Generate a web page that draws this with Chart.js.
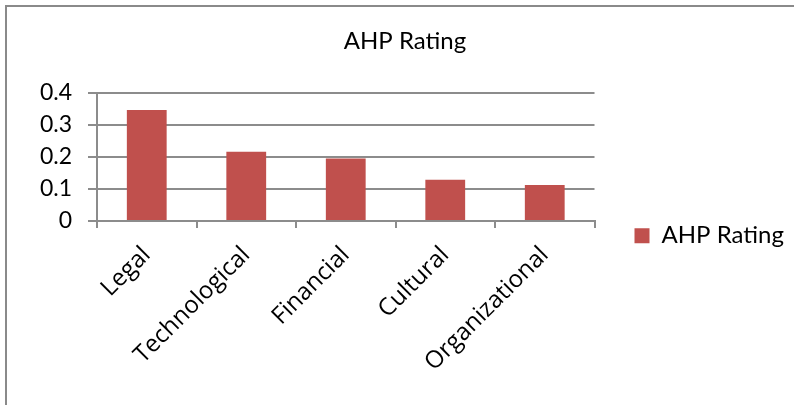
<!DOCTYPE html>
<html>
<head>
<meta charset="utf-8">
<script src="https://cdn.jsdelivr.net/npm/chart.js@4"></script>
<style>
  body { margin: 0; background: #fff; }
  #wrap { position: relative; width: 794px; height: 405px; overflow: hidden; }
  #frame { position: absolute; left: 5px; top: 5px; width: 900px; height: 600px; border: 2px solid #8a8a8a; }
  #chart { position: absolute; left: 0; top: 0; }
</style>
</head>
<body>
<div id="wrap">
  <div id="frame"></div>
  <canvas id="chart" width="794" height="405"></canvas>
</div>
<script>
var categories = ['Legal', 'Technological', 'Financial', 'Cultural', 'Organizational'];
var seriesName = 'AHP Rating';
var ahpValues = [0.346, 0.216, 0.195, 0.129, 0.112];
var yMin = 0, yMax = 0.4, yStep = 0.1;

var titleFont = 'Lato, "Open Sans", sans-serif';
var labelFont = '"Open Sans", Lato, sans-serif';
var gridGray = '#8c8c8c';

var ctx = document.getElementById('chart');
var chart = new Chart(ctx, {
    type: 'bar',
    data: {
        labels: categories,
        datasets: [{
            label: seriesName,
            data: ahpValues,
            backgroundColor: '#c0504d',
            borderWidth: 0,
            barPercentage: 0.4,
            categoryPercentage: 1
        }]
    },
    options: {
        responsive: false,
        animation: false,
        layout: { padding: { left: 26, right: 10, top: 10, bottom: 0 } },
        plugins: {
            title: {
                display: true,
                text: seriesName,
                color: '#000',
                font: { family: titleFont, size: 24, weight: 'normal' },
                padding: { top: 17, bottom: 37 }
            },
            legend: {
                position: 'right',
                title: {
                    // blank title, only pushes the legend entry down
                    display: true,
                    text: ' ',
                    font: { size: 12 },
                    padding: { top: 20, bottom: 22 }
                },
                labels: {
                    color: '#000',
                    font: { family: titleFont, size: 24 },
                    boxWidth: 15,
                    boxHeight: 15,
                    padding: 40
                }
            },
            tooltip: { enabled: false }
        },
        scales: {
            x: {
                afterFit: function(scale) { scale.height = 184; },
                grid: {
                    drawOnChartArea: false,
                    drawTicks: true,
                    tickLength: 7,
                    color: gridGray,
                    lineWidth: 2
                },
                border: { color: gridGray, width: 2 },
                ticks: {
                    color: '#000',
                    font: { family: labelFont, size: 24 },
                    minRotation: 45,
                    maxRotation: 45,
                    padding: 13
                }
            },
            y: {
                min: yMin,
                max: yMax,
                afterFit: function(scale) { scale.width = 71; },
                grid: {
                    color: gridGray,
                    lineWidth: 2,
                    drawTicks: true,
                    tickLength: 9
                },
                border: { color: gridGray, width: 2 },
                ticks: {
                    stepSize: yStep,
                    autoSkip: false,
                    color: '#000',
                    font: { family: titleFont, size: 23 },
                    padding: 16
                }
            }
        }
    }
});
</script>
</body>
</html>
